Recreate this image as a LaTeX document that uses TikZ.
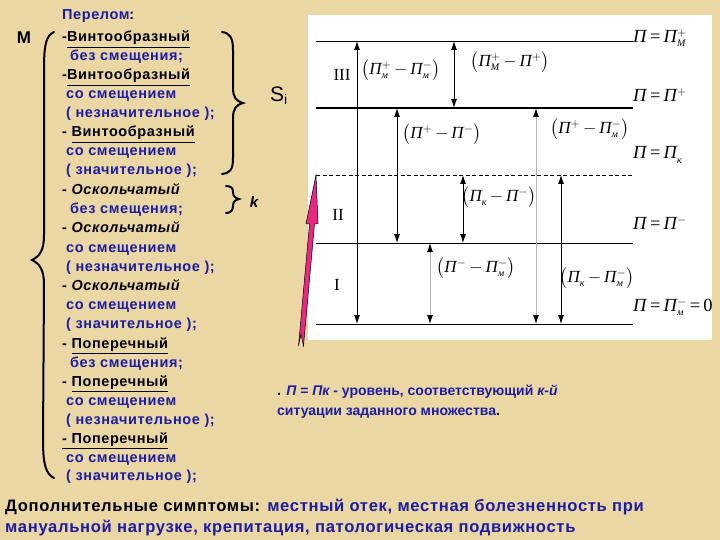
\documentclass[tikz,border=0pt]{standalone}
\usepackage{amsmath}
\usepackage{fontspec}
\setmainfont{Liberation Sans}
\newfontfamily\formfont{Liberation Serif}
\newfontfamily\widefont[LetterSpace=4]{Liberation Sans}
\usetikzlibrary{arrows.meta}
\definecolor{parchment}{RGB}{234,215,163}
\definecolor{listblue}{RGB}{28,28,165}
\definecolor{arrowpink}{RGB}{232,40,128}
\definecolor{greyarrow}{RGB}{178,178,178}

\newcommand{\listfont}{\widefont\fontsize{14.5}{17}\selectfont\bfseries}
\newcommand{\formsize}{\fontsize{17}{20}\selectfont}
\newcommand{\idx}[1]{\mbox{\fontsize{10}{10}\selectfont\formfont\itshape #1}}
\newcommand{\PP}[2]{{\itshape П}$^{#1}_{#2}$}
\newcommand{\dash}{\textcolor{black}{-}}

\begin{document}
\begin{tikzpicture}[x=1pt,y=-1pt,
    lst/.style={anchor=base west, font=\listfont, text=listblue, inner sep=0pt},
    form/.style={font=\formsize\formfont, inner sep=0pt},
    lvl/.style={line width=0.9pt},
    dbl/.style={line width=0.9pt, {Latex[length=9pt,width=6pt]}-{Latex[length=9pt,width=6pt]}},
    gdbl/.style={line width=0.9pt, greyarrow, {Latex[length=9pt,width=6pt,black]}-{Latex[length=9pt,width=6pt,black]}},
    brace/.style={line width=2pt, line cap=round}]
    \useasboundingbox (0,0) rectangle (720,540);
    \fill[parchment] (0,0) rectangle (720,540);

    % left list of fracture types
    \node[anchor=base, font=\fontsize{17}{18}\selectfont\bfseries] (m) at (24,44) {М};
    \node[lst] (head) at (62,20) {Перелом\textcolor{black}{:}};
    \node[lst] (v1) at (62,42) {\dash\textcolor{black}{\underline{Винтообразный}}};
    \node[lst] (v1a) at (70,61) {без смещения;};
    \node[lst] (v2) at (62,80) {\dash\textcolor{black}{\underline{Винтообразный}}};
    \node[lst] (v2a) at (66,99) {со смещением};
    \node[lst] (v2b) at (66,118) {( незначительное );};
    \node[lst] (v3) at (62,137) {\dash\ \textcolor{black}{\underline{Винтообразный}}};
    \node[lst] (v3a) at (66,156) {со смещением};
    \node[lst] (v3b) at (66,175) {( значительное );};
    \node[lst] (o1) at (62,195) {\dash\ \textcolor{black}{\itshape Оскольчатый}};
    \node[lst] (o1a) at (70,214) {без смещения;};
    \node[lst] (o2) at (62,233) {\dash\ \textcolor{black}{\itshape Оскольчатый}};
    \node[lst] (o2a) at (66,252) {со смещением};
    \node[lst] (o2b) at (66,271) {( незначительное );};
    \node[lst] (o3) at (62,290) {\dash\ \textcolor{black}{\itshape Оскольчатый}};
    \node[lst] (o3a) at (66,309) {со смещением};
    \node[lst] (o3b) at (66,328) {( значительное );};
    \node[lst] (p1) at (62,348) {\dash\ \textcolor{black}{\underline{Поперечный}}};
    \node[lst] (p1a) at (70,367) {без смещения;};
    \node[lst] (p2) at (62,386) {\dash\ \textcolor{black}{\underline{Поперечный}}};
    \node[lst] (p2a) at (66,405) {со смещением};
    \node[lst] (p2b) at (66,424) {( незначительное );};
    \node[lst] (p3) at (62,443) {\textcolor{black}{\underline{- Поперечный}}};
    \node[lst] (p3a) at (66,462) {со смещением};
    \node[lst] (p3b) at (66,480) {( значительное );};

    % braces
    \draw[brace] (54,32) .. controls (46,36) and (44,44) .. (44,70) -- (44,235)
        .. controls (44,250) and (40,256) .. (32,260) .. controls (40,264) and (44,270) .. (44,285)
        -- (43,440) .. controls (43,465) and (46,474) .. (54,478);
    \draw[brace] (222,32) .. controls (230,33) and (233,38) .. (233,50) -- (233,88)
        .. controls (233,97) and (236,101) .. (243,103) .. controls (236,105) and (233,109) .. (233,118)
        -- (233,158) .. controls (233,170) and (230,173) .. (222,174);
    \draw[brace] (226,186) .. controls (231,186) and (233,188) .. (233,192)
        .. controls (233,196) and (235,198) .. (239,199) .. controls (235,200) and (233,202) .. (233,206)
        .. controls (233,210) and (231,213) .. (226,213);
    \node[font=\fontsize{21}{22}\selectfont] (si) at (279,96) {S$_{\text{\fontsize{14}{14}\selectfont i}}$};
    \node[font=\fontsize{15}{16}\selectfont\bfseries\itshape] (k) at (254,202) {k};

    % level diagram
    \fill[white] (308,15) rectangle (712,340);
    \coordinate (lM) at (316,41);
    \coordinate (lP) at (316,108);
    \coordinate (lK) at (316,175);
    \coordinate (lN) at (316,243);
    \coordinate (l0) at (316,324);
    \coordinate (rend) at (633,0);
    \coordinate (cA) at (357,0);
    \coordinate (cB) at (454,0);
    \coordinate (cC) at (397,0);
    \coordinate (cD) at (536,0);
    \coordinate (cE) at (463,0);
    \coordinate (cF) at (430,0);
    \coordinate (cG) at (561,0);
    \draw[lvl] (lM) -- (lM -| rend);
    \draw[lvl, line width=2.2pt] (lP) -- (lP -| rend);
    \draw[lvl, dash pattern=on 4pt off 2.5pt] (lK) -- (lK -| rend);
    \draw[lvl] (lN) -- (lN -| rend);
    \draw[lvl] (l0) -- (l0 -| rend);

    \draw[gdbl] (cD |- l0) -- (cD |- lP);
    \draw[gdbl] (cF |- l0) -- (cF |- lN);
    \draw[dbl] (cA |- l0) -- (cA |- lM);
    \draw[dbl] (cB |- lP) -- (cB |- lM);
    \draw[dbl] (cC |- lN) -- (cC |- lP);
    \draw[dbl] (cE |- lN) -- (cE |- lK);
    \draw[dbl] (cG |- l0) -- (cG |- lK);

    \node[form] (f1) at (401,70) {$\bigl($\PP{+}{\idx{м}}\,$-$\,\PP{-}{\idx{м}}$\bigr)$};
    \node[form] (f2) at (510,62) {$\bigl($\PP{+}{\idx{М}}\,$-$\,\PP{+}{}$\bigr)$};
    \node[form] (f3) at (442,134) {$\bigl($\PP{+}{}\,$-$\,\PP{-}{}$\bigr)$};
    \node[form] (f4) at (590,129) {$\bigl($\PP{+}{}\,$-$\,\PP{-}{\idx{м}}$\bigr)$};
    \node[form] (f5) at (499,197) {$\bigl($\PP{}{\idx{к}}\,$-$\,\PP{-}{}$\bigr)$};
    \node[form] (f6) at (476,268) {$\bigl($\PP{-}{}\,$-$\,\PP{-}{\idx{м}}$\bigr)$};
    \node[form] (f7) at (597,278) {$\bigl($\PP{}{\idx{к}}\,$-$\,\PP{-}{\idx{м}}$\bigr)$};

    \node[form, font=\fontsize{18.5}{20}\selectfont\formfont, anchor=west] (r1) at (633,38) {\PP{}{}\,=\,\PP{+}{\idx{М}}};
    \node[form, font=\fontsize{18.5}{20}\selectfont\formfont, anchor=west] (r2) at (633,97) {\PP{}{}\,=\,\PP{+}{}};
    \node[form, font=\fontsize{18.5}{20}\selectfont\formfont, anchor=west] (r3) at (633,155) {\PP{}{}\,=\,\PP{}{\idx{к}}};
    \node[form, font=\fontsize{18.5}{20}\selectfont\formfont, anchor=west] (r4) at (633,225) {\PP{}{}\,=\,\PP{-}{}};
    \node[form, font=\fontsize{18.5}{20}\selectfont\formfont, anchor=west] (r5) at (633,307) {\PP{}{}\,=\,\PP{-}{\idx{м}}\,=\,0};

    \node[form] (z3) at (342,75) {III};
    \node[form] (z2) at (338,215) {II};
    \node[form] (z1) at (337,285) {I};

    % pink arrow
    \filldraw[fill=arrowpink, draw=black, line width=0.5pt]
        (316,175) -- (318,224) -- (314.5,224) -- (303.5,346) -- (301,334) -- (298.5,346)
        -- (309.5,224) -- (306,224) -- cycle;

    % notes
    \node[anchor=base west, font=\fontsize{14}{17}\selectfont\bfseries, text=listblue, inner sep=0pt] (note1) at (277,395)
        {\textcolor{black}{.} {\itshape П = Пк} - уровень, соответствующий {\itshape к-й}};
    \node[anchor=base west, font=\fontsize{14}{17}\selectfont\bfseries, text=listblue, inner sep=0pt] (note2) at (277,415)
        {ситуации заданного множества\textcolor{black}{.}};
    \node[anchor=base west, font=\widefont\fontsize{16.6}{18}\selectfont\bfseries, text=listblue, inner sep=0pt] (sym1) at (5,511)
        {\textcolor{black}{Дополнительные симптомы:} местный отек, местная болезненность при};
    \node[anchor=base west, font=\widefont\fontsize{16.6}{18}\selectfont\bfseries, text=listblue, inner sep=0pt] (sym2) at (5,532)
        {мануальной нагрузке, крепитация, патологическая подвижность};
\end{tikzpicture}
\end{document}
